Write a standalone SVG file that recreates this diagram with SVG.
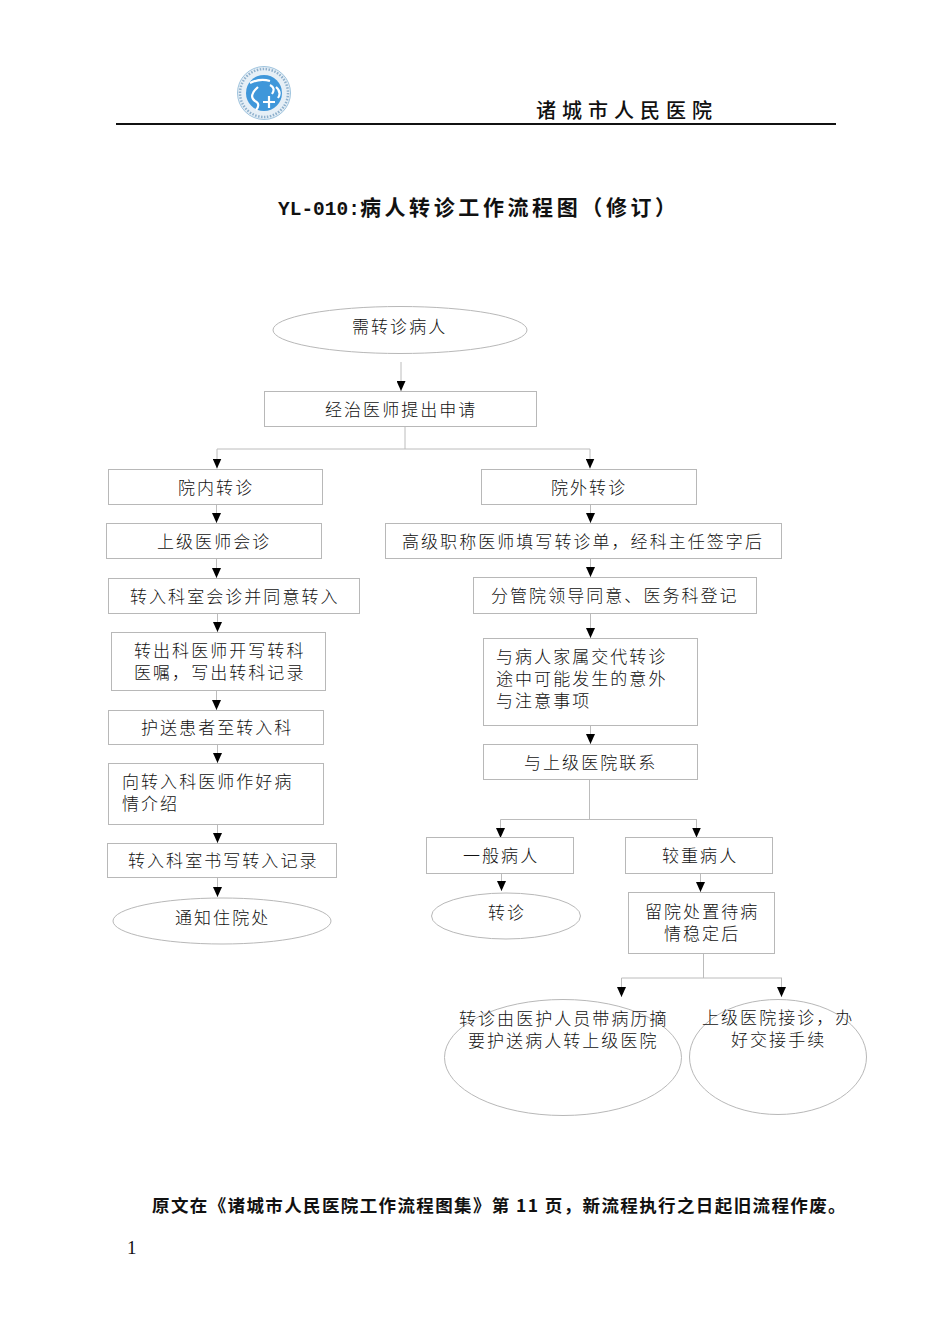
<svg xmlns="http://www.w3.org/2000/svg" width="950" height="1344" viewBox="0 0 950 1344">
<style>
text{font-family:"Noto Sans CJK SC","Noto Sans",sans-serif;fill:#111;font-size:17px;letter-spacing:2.05px;font-weight:300}
.b{fill:#fff;stroke:#b8b8b8;stroke-width:1}
.e{fill:none;stroke:#b8b8b8;stroke-width:1}
.c{fill:none;stroke:#bcbcbc;stroke-width:1}
.m{marker-end:url(#a)}
.t{font-weight:700;font-size:21px;letter-spacing:3.6px}
</style>
<defs>
<marker id="a" viewBox="0 0 10 9" refX="10" refY="4.500" markerWidth="10" markerHeight="9" markerUnits="userSpaceOnUse" orient="auto"><path d="M0 0 10 4.500 0 9Z" fill="#000"/></marker>
</defs>
<g id="logo">
<circle cx="264" cy="93" r="26.500" fill="#e6eff6" stroke="#9fc4de" stroke-width="1"/>
<circle cx="264" cy="93" r="24" fill="none" stroke="#8fb0cc" stroke-width="2.500" stroke-dasharray="1.500 1.500"/>
<circle cx="264" cy="93" r="18" fill="#3f97da"/>
<path d="M250 83Q260 78 270 81M258 87Q248 96 255 101Q261 104 256 110M270 85Q276 88 272 94M276 87Q282 92 278 98M263 102H275M269 96V108" fill="none" stroke="#fff" stroke-width="2.200"/>
</g>
<g id="header">
<line x1="116" y1="124" x2="836" y2="124" stroke="#111" stroke-width="2"/>
<text x="536" y="118" style="font-size:20px;letter-spacing:6px;font-weight:500">诸城市人民医院</text>
</g>
<text id="title" class="t" x="278" y="215"><tspan style="font-family:'Liberation Mono',monospace;letter-spacing:0;font-size:19.500px;font-weight:700">YL-010:</tspan>病人转诊工作流程图（修订）</text>
<g id="connectors">
<path class="c m" d="M401 362V391"/>
<path class="c" d="M405 427V449M217 449H590"/>
<path class="c m" d="M217 449V468.500"/><path class="c m" d="M590 449V468.500"/>
<path class="c m" d="M216.500 505V523"/><path class="c m" d="M216.500 559V578"/><path class="c m" d="M217.500 614V632"/><path class="c m" d="M216.500 691V710"/><path class="c m" d="M217.500 745V763"/><path class="c m" d="M217.500 825V843"/><path class="c m" d="M217.500 878V897"/>
<path class="c m" d="M590.500 505V523"/><path class="c m" d="M590.500 559V577"/><path class="c m" d="M590.500 614V638"/><path class="c m" d="M590.500 726V744"/>
<path class="c" d="M589.500 780V819.500M500.500 819.500H697"/>
<path class="c m" d="M500.500 819.500V838"/><path class="c m" d="M696.500 819.500V837.500"/>
<path class="c m" d="M501.500 873V891"/><path class="c m" d="M700.500 873V892"/>
<path class="c" d="M703.500 954V978M621.500 978H782"/>
<path class="c m" d="M621.500 978V997"/><path class="c m" d="M781.500 978V997"/>
</g>
<g id="n1"><ellipse class="e" cx="400" cy="330" rx="127" ry="23.500"/><text x="352" y="333">需转诊病人</text></g>
<g id="n2"><rect class="b" x="264.500" y="391.500" width="272" height="35"/><text x="325" y="416">经治医师提出申请</text></g>
<g id="n3"><rect class="b" x="108.500" y="469.500" width="214" height="35"/><text x="178" y="494">院内转诊</text></g>
<g id="n4"><rect class="b" x="481.500" y="469.500" width="215" height="35"/><text x="551" y="494">院外转诊</text></g>
<g id="n5"><rect class="b" x="106.500" y="523.500" width="215" height="35"/><text x="157" y="548">上级医师会诊</text></g>
<g id="n6"><rect class="b" x="385.500" y="523.500" width="396" height="35"/><text x="402" y="548">高级职称医师填写转诊单，经科主任签字后</text></g>
<g id="n7"><rect class="b" x="108.500" y="578.500" width="251" height="35"/><text x="130" y="603">转入科室会诊并同意转入</text></g>
<g id="n8"><rect class="b" x="473.500" y="577.500" width="283" height="36"/><text x="491" y="602">分管院领导同意、医务科登记</text></g>
<g id="n9"><rect class="b" x="111.500" y="632.500" width="214" height="58"/><text><tspan x="134" y="657">转出科医师开写转科</tspan><tspan x="134" y="679">医嘱，写出转科记录</tspan></text></g>
<g id="n10"><rect class="b" x="483.500" y="638.500" width="214" height="87"/><text><tspan x="496" y="663">与病人家属交代转诊</tspan><tspan x="496" y="685">途中可能发生的意外</tspan><tspan x="496" y="707">与注意事项</tspan></text></g>
<g id="n11"><rect class="b" x="108.500" y="710.500" width="215" height="34"/><text x="141" y="734">护送患者至转入科</text></g>
<g id="n12"><rect class="b" x="483.500" y="744.500" width="214" height="35"/><text x="524" y="769">与上级医院联系</text></g>
<g id="n13"><rect class="b" x="108.500" y="763.500" width="215" height="61"/><text><tspan x="122" y="788">向转入科医师作好病</tspan><tspan x="122" y="810">情介绍</tspan></text></g>
<g id="n14"><rect class="b" x="107.500" y="843.500" width="229" height="34"/><text x="128" y="867">转入科室书写转入记录</text></g>
<g id="n15"><ellipse class="e" cx="222" cy="921" rx="109" ry="23"/><text x="175" y="924">通知住院处</text></g>
<g id="n16"><rect class="b" x="426.500" y="837.500" width="147" height="36"/><text x="463" y="862">一般病人</text></g>
<g id="n17"><rect class="b" x="625.500" y="837.500" width="147" height="36"/><text x="662" y="862">较重病人</text></g>
<g id="n18"><ellipse class="e" cx="506" cy="916" rx="74.500" ry="23"/><text x="488" y="919">转诊</text></g>
<g id="n19"><rect class="b" x="628.500" y="892.500" width="146" height="61"/><text><tspan x="645" y="918">留院处置待病</tspan><tspan x="664" y="940">情稳定后</tspan></text></g>
<g id="n20"><ellipse class="e" cx="563" cy="1057.500" rx="118.500" ry="58"/><text><tspan x="459" y="1025">转诊由医护人员带病历摘</tspan><tspan x="468" y="1047">要护送病人转上级医院</tspan></text></g>
<g id="n21"><ellipse class="e" cx="778" cy="1057" rx="88.500" ry="57.500"/><text><tspan x="702" y="1024">上级医院接诊，办</tspan><tspan x="731" y="1046">好交接手续</tspan></text></g>
<text id="note" x="152" y="1212" style="font-size:17.500px;letter-spacing:1.380px;font-weight:700">原文在《诸城市人民医院工作流程图集》第 11 页，新流程执行之日起旧流程作废。</text>
<text id="page" x="127" y="1254" style="font-family:'Liberation Serif',serif;font-size:19px;letter-spacing:0;font-weight:400">1</text>
</svg>
